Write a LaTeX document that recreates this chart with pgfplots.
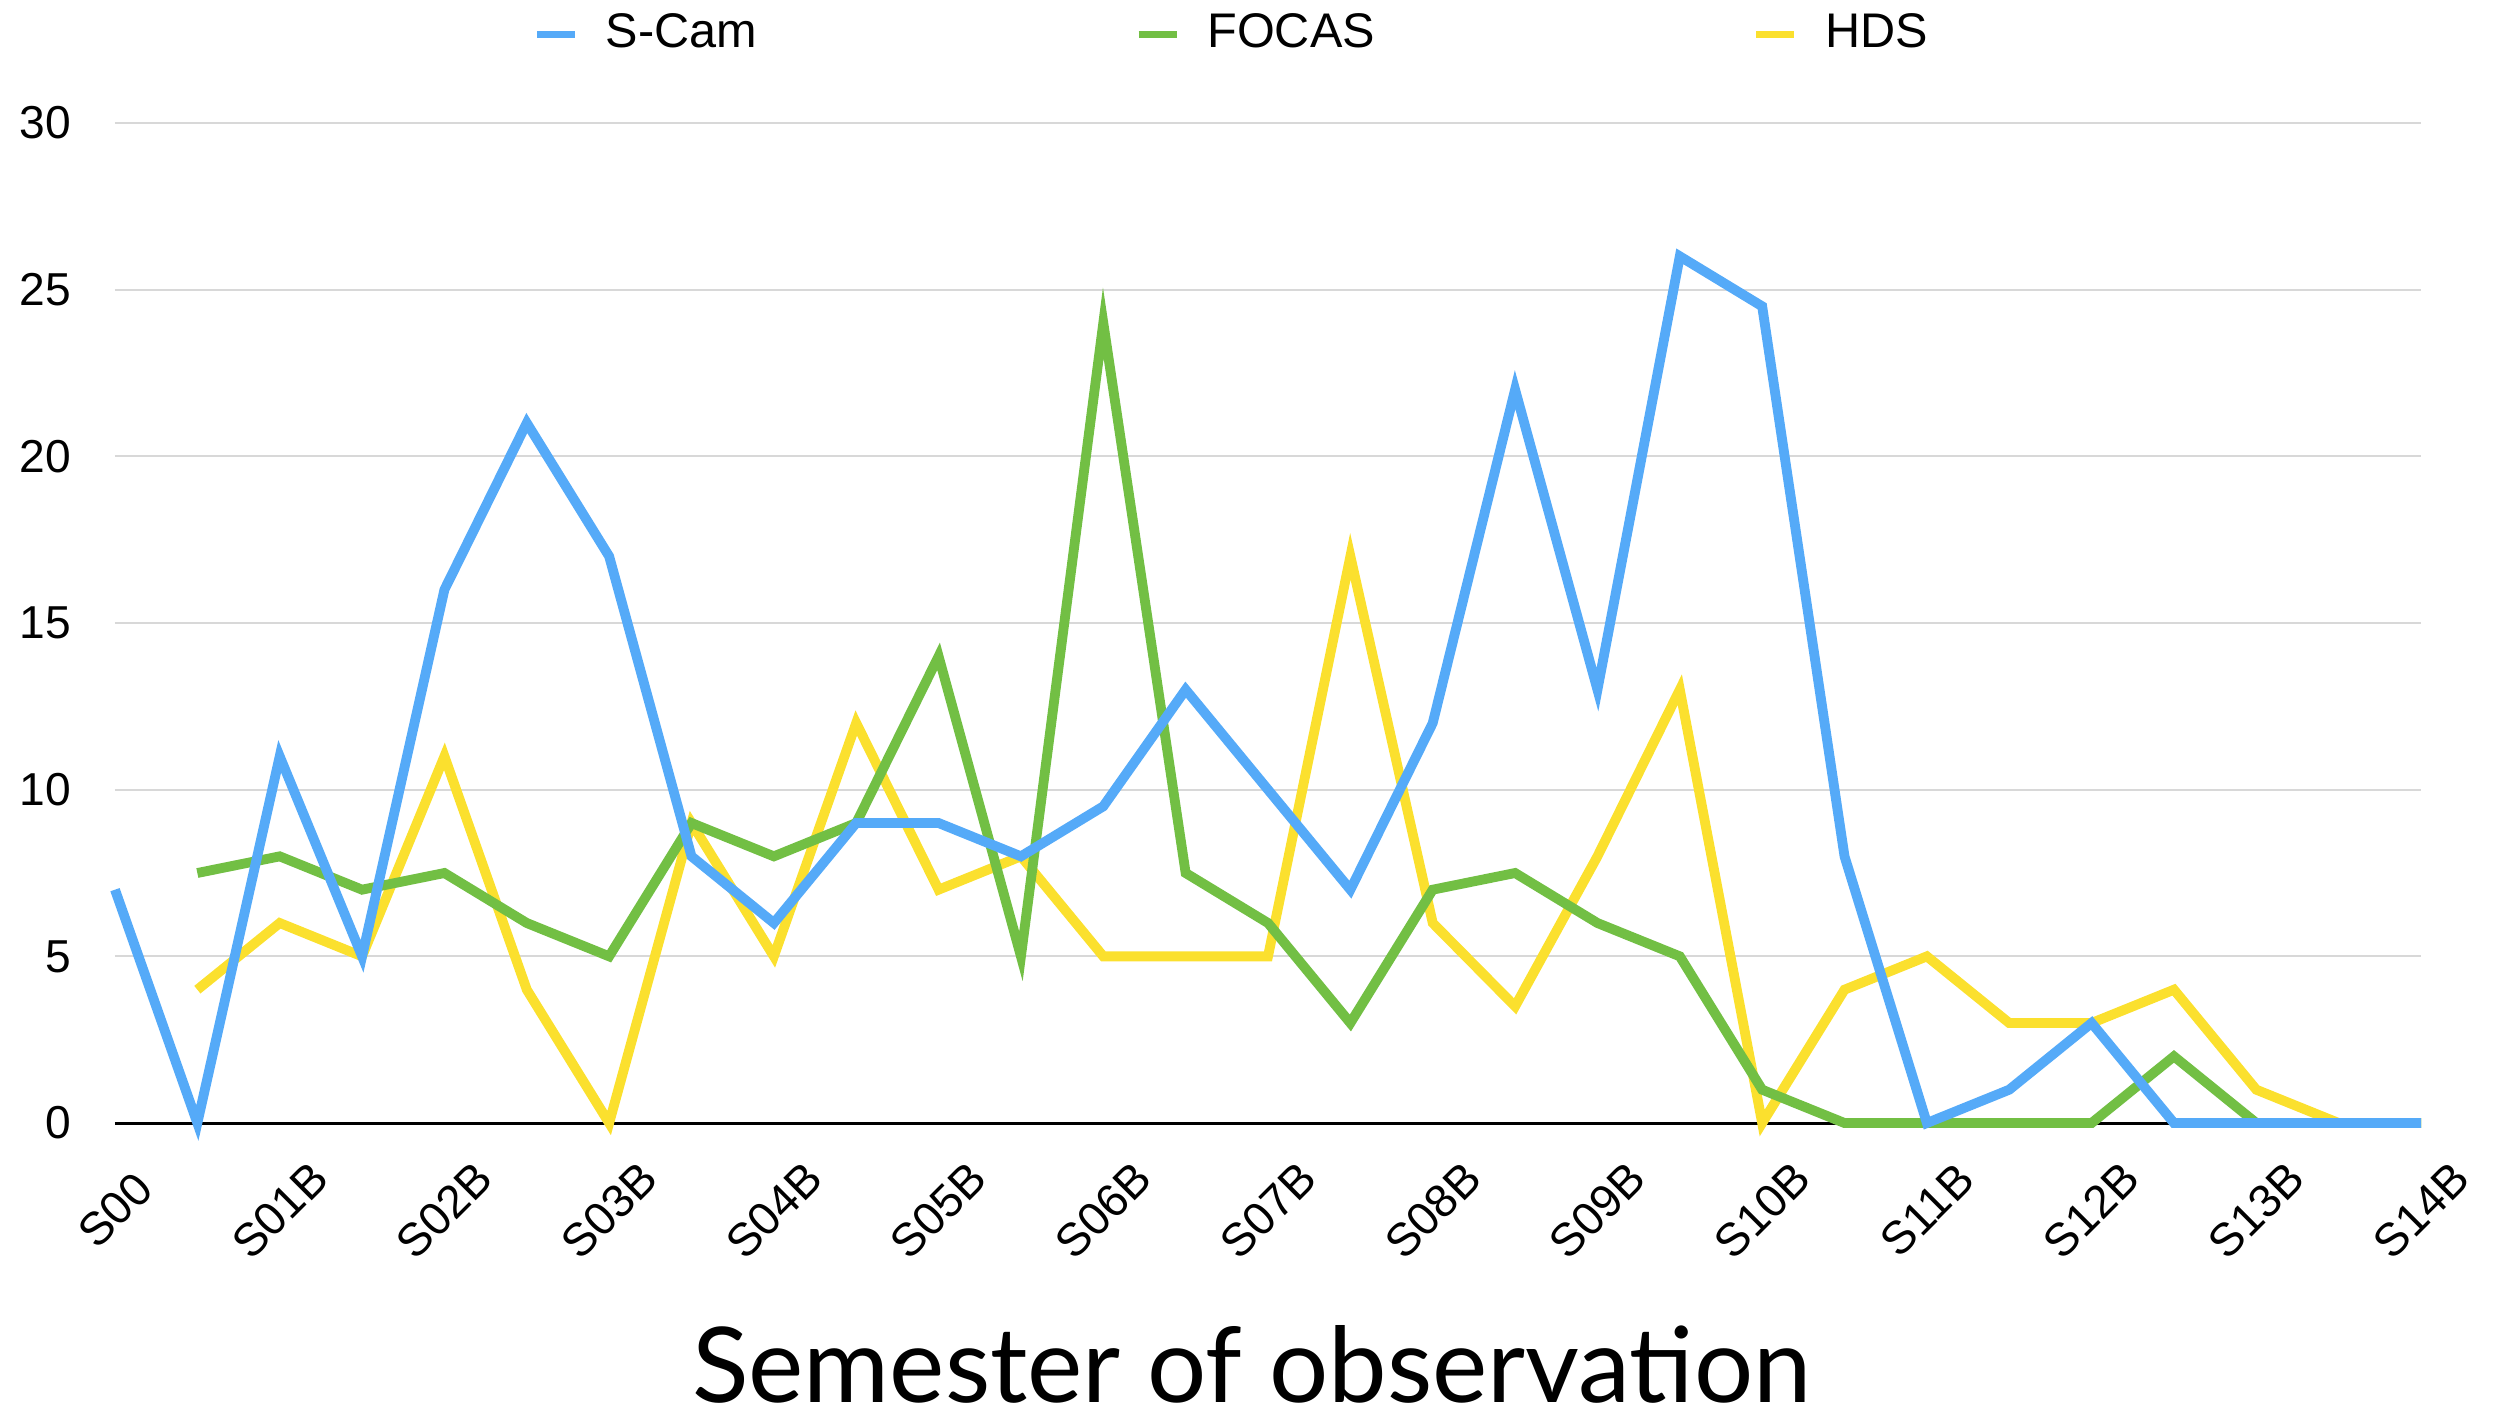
\documentclass[border=0pt]{standalone}
\usepackage{pgfplots}
\pgfplotsset{compat=1.18}
\usepackage{fontspec}
\setmainfont{Liberation Sans}
\newfontfamily\gill{Lato}
\definecolor{scam}{HTML}{55AAF8}
\definecolor{focas}{HTML}{72BF44}
\definecolor{hds}{HTML}{FBE02E}
\definecolor{gridc}{RGB}{216,216,216}
\begin{document}
\begin{tikzpicture}
\begin{axis}[
  scale only axis, width=469.65pt, height=203.67pt,
  xmin=0, xmax=28, ymin=0, ymax=30,
  axis x line*=bottom, axis y line*=left,
  x axis line style={black, line width=0.6pt, -},
  y axis line style={draw=none},
  clip=false,
  xtick={0,2,...,28},
  xticklabels={S00,S01B,S02B,S03B,S04B,S05B,S06B,S07B,S08B,S09B,S10B,S11B,S12B,S13B,S14B},
  ytick={0,5,...,30},
  major tick length=0pt,
  ymajorgrids, major grid style={gridc, line width=0.45pt},
  /pgf/number format/assume math mode=true,
  tick label style={font=\fontsize{9.4}{10}\selectfont},
  xticklabel style={rotate=45, anchor=center, inner sep=0pt, xshift=-12.52pt, yshift=-12.52pt},
  yticklabel style={anchor=east, inner sep=0pt, xshift=-8.8pt},
  xlabel={\gill\fontsize{21.3}{24}\selectfont Semester of observation},
  xlabel style={at={(rel axis cs:0.493,0)}, anchor=center, yshift=-49.2pt},
  legend columns=3,
  legend style={at={(rel axis cs:0.486,1)}, anchor=center, yshift=18pt, draw=none, fill=none,
    font=\fontsize{9.9}{11}\selectfont,
    /tikz/every odd column/.append style={column sep=3.6pt},
    /tikz/every even column/.append style={column sep=75pt},
    inner sep=0pt},
  legend image code/.code={\draw[#1, line width=1.4pt] (0pt,0pt) -- (7.7pt,0pt);},
  every axis plot/.append style={line width=2pt, line join=miter},
]
\addlegendimage{scam}
\addlegendentry{S-Cam}
\addlegendimage{focas}
\addlegendentry{FOCAS}
\addlegendimage{hds}
\addlegendentry{HDS}

\addplot[hds, forget plot] coordinates {
 (1,4) (2,6) (3,5) (4,11) (5,4) (6,0) (7,9) (8,5) (9,12) (10,7) (11,8) (12,5) (13,5) (14,5)
 (15,17) (16,6) (17,3.5) (18,8) (19,13) (20,0) (21,4) (22,5) (23,3) (24,3) (25,4) (26,1) (27,0) (28,0)};
\addplot[focas, forget plot] coordinates {
 (1,7.5) (2,8) (3,7) (4,7.5) (5,6) (6,5) (7,9) (8,8) (9,9) (10,14) (11,5) (12,24) (13,7.5) (14,6)
 (15,3) (16,7) (17,7.5) (18,6) (19,5) (20,1) (21,0) (22,0) (23,0) (24,0) (25,2) (26,0) (27,0) (28,0)};
\addplot[scam, forget plot] coordinates {
 (0,7) (1,0) (2,11) (3,5) (4,16) (5,21) (6,17) (7,8) (8,6) (9,9) (10,9) (11,8) (12,9.5) (13,13) (14,10)
 (15,7) (16,12) (17,22) (18,13) (19,26) (20,24.5) (21,8) (22,0) (23,1) (24,3) (25,0) (26,0) (27,0) (28,0)};

\coordinate (bl) at (rel axis cs:0,0);
\coordinate (tr) at (rel axis cs:1,1);
\end{axis}
\path (bl) ++(-23.42pt,-59.06pt) coordinate (A);
\path (tr) ++(16.9pt,25.05pt) coordinate (B);
\pgfresetboundingbox
\useasboundingbox (A) rectangle (B);
\end{tikzpicture}
\end{document}
